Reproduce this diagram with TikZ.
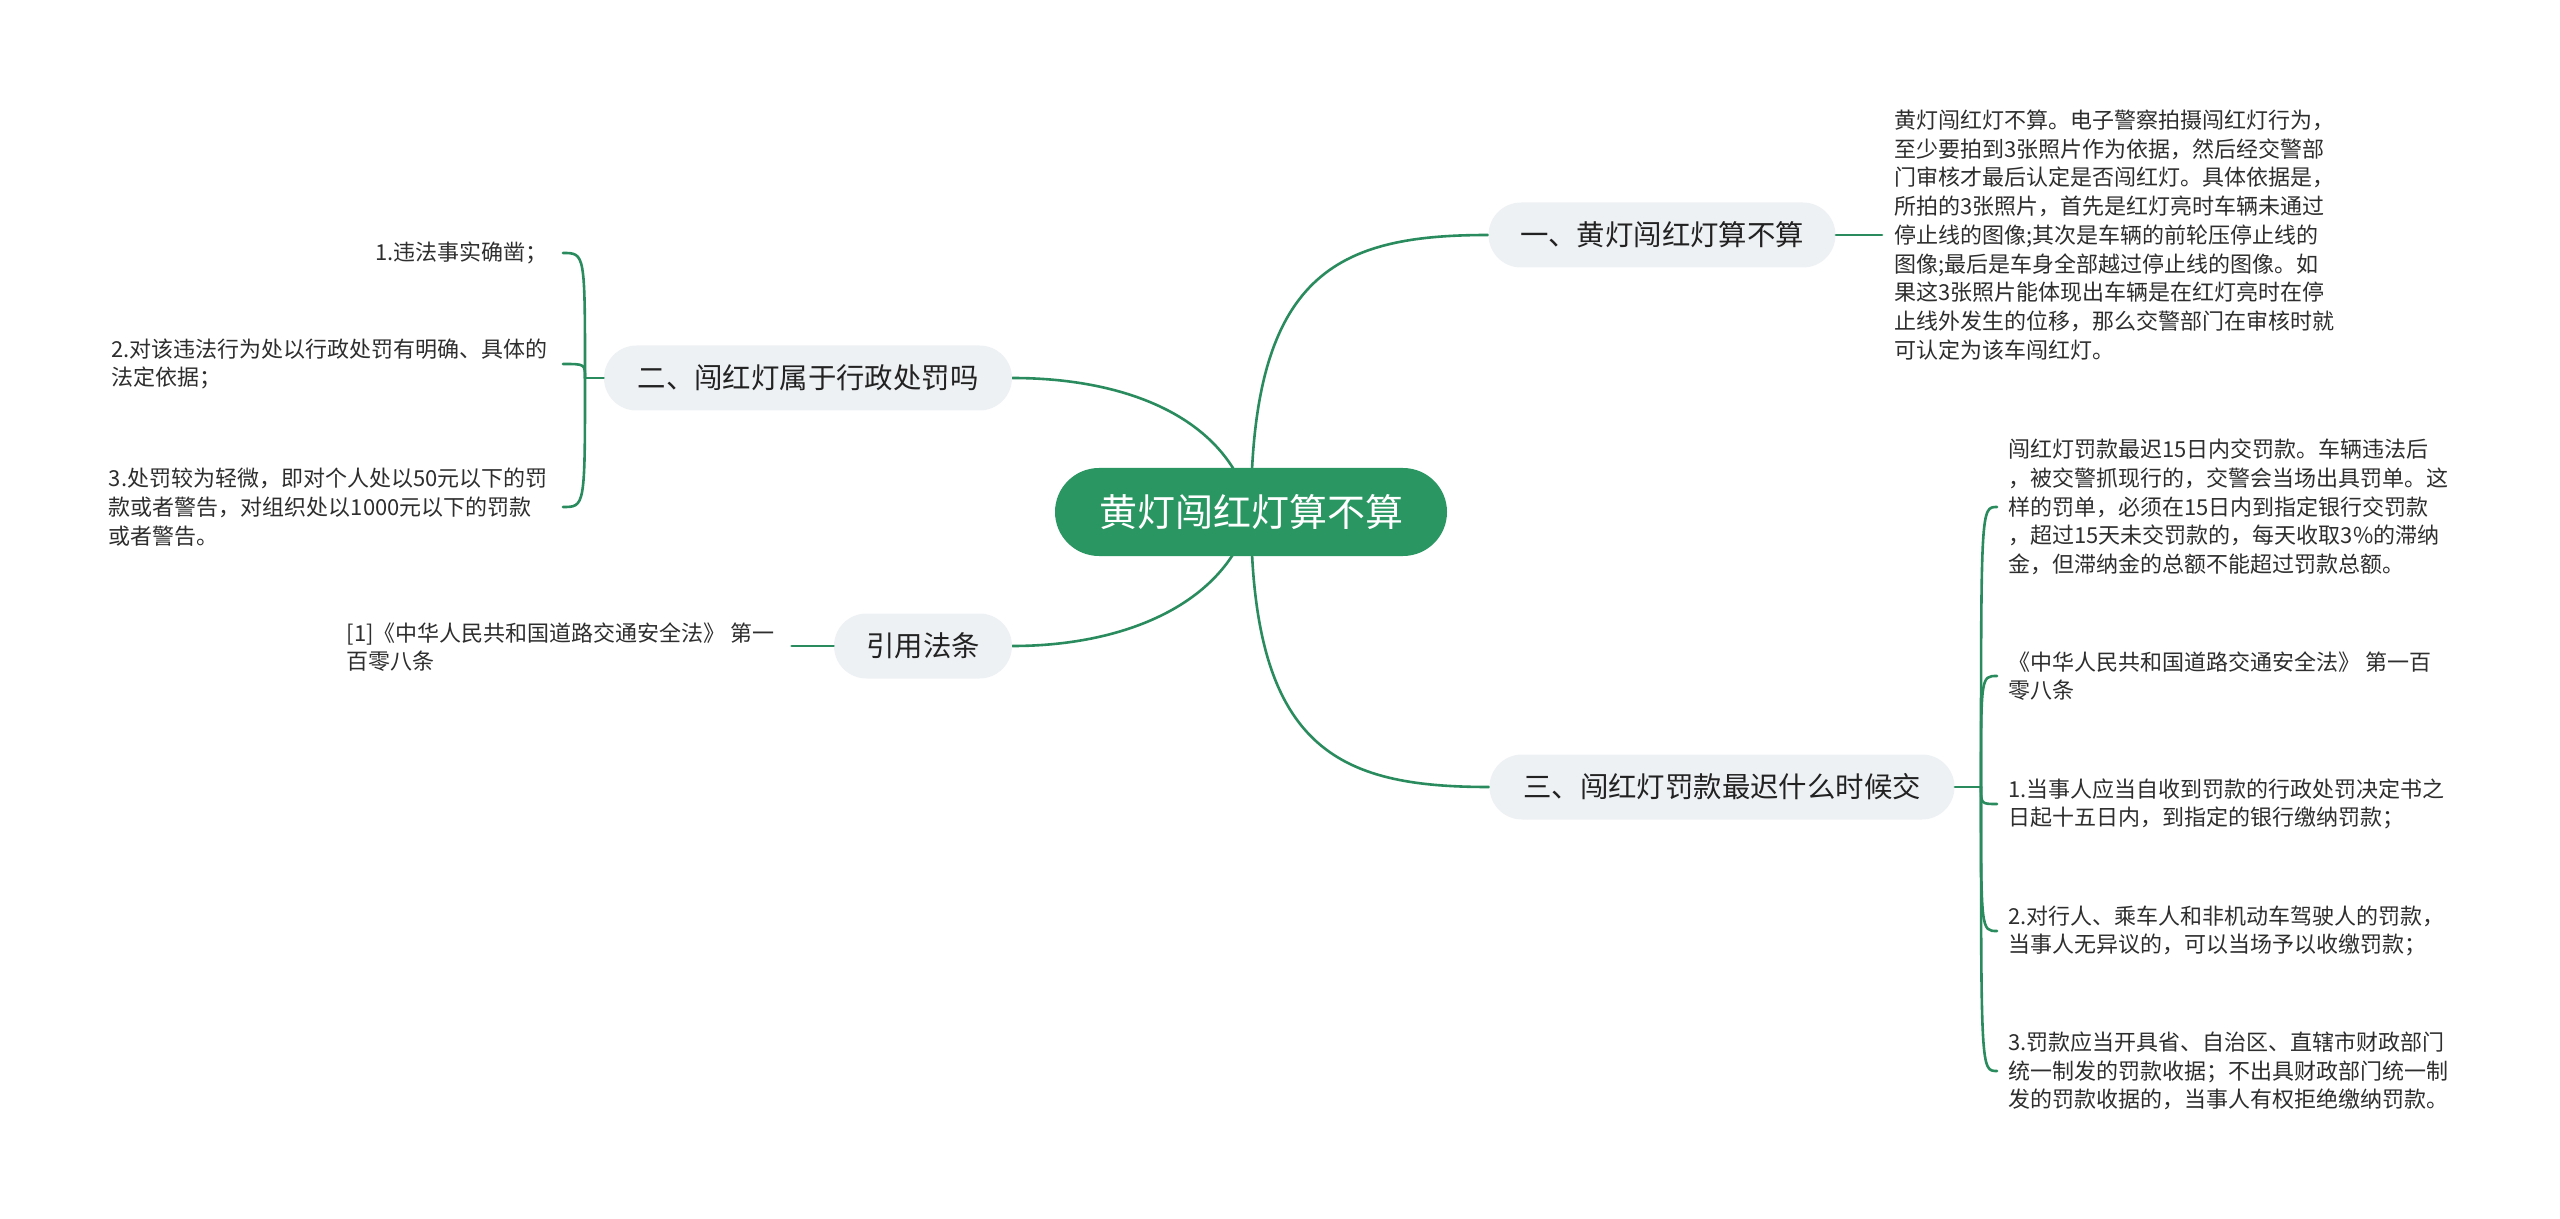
\documentclass[tikz,border=0pt]{standalone}
\usepackage{fontspec}
\setmainfont{Noto Sans CJK SC}
\usetikzlibrary{calc}
\definecolor{rootgreen}{HTML}{2A9763}
\definecolor{linegreen}{HTML}{2A8C5E}
\definecolor{branchgrey}{HTML}{EEF1F4}
\definecolor{branchtxt}{HTML}{222222}
\definecolor{leaftxt}{HTML}{2E2E2E}
\pgfdeclarelayer{bg}
\pgfsetlayers{bg,main}
\begin{document}
\begin{tikzpicture}[x=0.5pt,y=-0.5pt,
  rootbox/.style={fill=rootgreen, text=white, rounded corners=22pt,
    minimum width=196pt, minimum height=44pt, inner sep=0pt,
    font=\fontsize{19}{22}\selectfont},
  branchbox/.style={fill=branchgrey, text=branchtxt, minimum height=32.5pt,
    rounded corners=16.25pt, inner sep=0pt, font=\fontsize{14.2}{17}\selectfont},
  leaf/.style={text=leaftxt, align=left, inner sep=0pt,
    font=\fontsize{11}{14.35}\selectfont},
  conn/.style={draw=linegreen, line width=1.3pt, line cap=round}
]
\useasboundingbox (0,0) rectangle (2560,1219);

% root and branches
\node[rootbox] (root) at (1251,512) {黄灯闯红灯算不算};
\node[branchbox, minimum width=173.5pt] (b1) at (1662,235) {一、黄灯闯红灯算不算};
\node[branchbox, minimum width=204pt] (b2) at (808,378) {二、闯红灯属于行政处罚吗};
\node[branchbox, minimum width=89pt] (b3) at (923,646) {引用法条};
\node[branchbox, minimum width=232.5pt] (b4) at (1722,787) {三、闯红灯罚款最迟什么时候交};

% leaves of branch 1
\node[leaf, anchor=west] (t1) at (1894,235) {黄灯闯红灯不算。电子警察拍摄闯红灯行为，\\
至少要拍到3张照片作为依据，然后经交警部\\
门审核才最后认定是否闯红灯。具体依据是，\\
所拍的3张照片，首先是红灯亮时车辆未通过\\
停止线的图像;其次是车辆的前轮压停止线的\\
图像;最后是车身全部越过停止线的图像。如\\
果这3张照片能体现出车辆是在红灯亮时在停\\
止线外发生的位移，那么交警部门在审核时就\\
可认定为该车闯红灯。};

% leaves of branch 2
\node[leaf, anchor=east] (l1) at (548,253) {1.违法事实确凿；};
\node[leaf, anchor=east] (l2) at (548,364) {2.对该违法行为处以行政处罚有明确、具体的\\法定依据；};
\node[leaf, anchor=east] (l3) at (548,507) {3.处罚较为轻微，即对个人处以50元以下的罚\\款或者警告，对组织处以1000元以下的罚款\\或者警告。};

% leaf of branch 3
\node[leaf, anchor=east] (r1) at (775,647) {[1]《中华人民共和国道路交通安全法》 第一\\百零八条};

% leaves of branch 4
\node[leaf, anchor=west] (ra) at (2008,507) {闯红灯罚款最迟15日内交罚款。车辆违法后\\
，被交警抓现行的，交警会当场出具罚单。这\\
样的罚单，必须在15日内到指定银行交罚款\\
，超过15天未交罚款的，每天收取3\%的滞纳\\
金，但滞纳金的总额不能超过罚款总额。};
\node[leaf, anchor=west] (rb) at (2008,676) {《中华人民共和国道路交通安全法》 第一百\\零八条};
\node[leaf, anchor=west] (rc) at (2008,804) {1.当事人应当自收到罚款的行政处罚决定书之\\日起十五日内，到指定的银行缴纳罚款；};
\node[leaf, anchor=west] (rd) at (2008,931) {2.对行人、乘车人和非机动车驾驶人的罚款，\\当事人无异议的，可以当场予以收缴罚款；};
\node[leaf, anchor=west] (re) at (2008,1071) {3.罚款应当开具省、自治区、直辖市财政部门\\统一制发的罚款收据；不出具财政部门统一制\\发的罚款收据的，当事人有权拒绝缴纳罚款。};

% junctions
\coordinate (j2) at (585,378);
\coordinate (j4) at (1981,787);

\begin{pgfonlayer}{bg}
\fill[white] (0,0) rectangle (2560,1219);
\draw[conn] (root.center) .. controls +(0,-240) and +(-150,0) .. (b1.west);
\draw[conn] (root.center) .. controls +(0,238) and +(-151,0) .. (b4.west);
\draw[conn] (root.center) .. controls +(-21,-92) and +(118,0) .. (b2.east);
\draw[conn] (root.center) .. controls +(-21,88) and +(118,0) .. (b3.east);
\end{pgfonlayer}

% branch 1 stub
\draw[conn] (b1.east) -- ($(t1.west)+(-12,0)$);
% branch 3 stub
\draw[conn] (b3.west) -- ($(b3.west)+(-42,0)$);
% branch 2 bracket
\draw[conn] (b2.west) -- (j2);
\draw[conn] (j2) .. controls (j2 |- l1.east) .. ($(l1.east)+(15,0)$);
\draw[conn] (j2) .. controls (j2 |- l2.east) .. ($(l2.east)+(15,0)$);
\draw[conn] (j2) .. controls (j2 |- l3.east) .. ($(l3.east)+(15,0)$);
% branch 4 bracket
\draw[conn] (b4.east) -- (j4);
\draw[conn] (j4) .. controls (j4 |- ra.west) .. ($(ra.west)+(-11,0)$);
\draw[conn] (j4) .. controls (j4 |- rb.west) .. ($(rb.west)+(-11,0)$);
\draw[conn] (j4) .. controls (j4 |- rc.west) .. ($(rc.west)+(-11,0)$);
\draw[conn] (j4) .. controls (j4 |- rd.west) .. ($(rd.west)+(-11,0)$);
\draw[conn] (j4) .. controls (j4 |- re.west) .. ($(re.west)+(-11,0)$);
\end{tikzpicture}
\end{document}
